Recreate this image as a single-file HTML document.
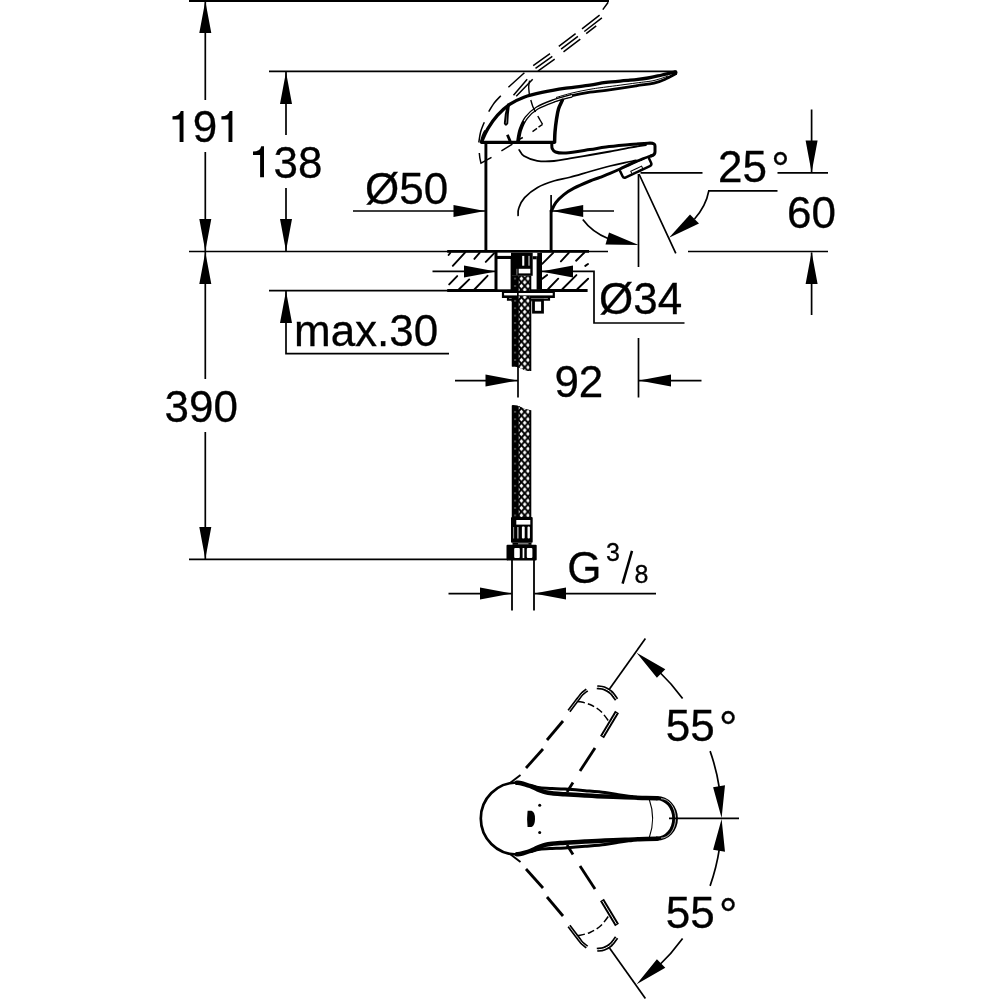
<!DOCTYPE html>
<html><head><meta charset="utf-8">
<style>
html,body{margin:0;padding:0;background:#fff;}
body{width:1000px;height:1000px;overflow:hidden;}
svg{display:block;will-change:transform;}
text{font-family:"Liberation Sans",sans-serif;fill:#000;stroke:#000;stroke-width:0.3px;}
.t{stroke:#000;stroke-width:1.7;fill:none;}
.m{stroke:#000;stroke-width:2;fill:none;stroke-linecap:round;stroke-linejoin:round;}
.k{stroke:#000;stroke-width:3;fill:none;stroke-linecap:round;stroke-linejoin:round;}
.a{fill:#000;stroke:none;}
.h{fill:none;stroke:none;}
.w{fill:#fff;stroke:#000;}
</style></head><body>
<svg width="1000" height="1000" viewBox="0 0 1000 1000">
<defs>
<pattern id="br" x="518.1" y="4.8" width="6.6" height="7.4" patternUnits="userSpaceOnUse">
<rect width="6.6" height="7.4" fill="#000"/>
<path d="M3.30 -2.25L5.25 0.00L3.30 2.25L1.35 0.00ZM3.30 5.15L5.25 7.40L3.30 9.65L1.35 7.40ZM0.00 1.45L1.95 3.70L0.00 5.95L-1.95 3.70ZM6.60 1.45L8.55 3.70L6.60 5.95L4.65 3.70Z" fill="#fff"/>
</pattern>
<pattern id="brd" x="518.1" y="4.8" width="6.6" height="7.4" patternUnits="userSpaceOnUse">
<rect width="6.6" height="7.4" fill="#000"/>
<circle cx="3.6" cy="0" r="0.9" fill="#777"/><circle cx="3.6" cy="7.4" r="0.9" fill="#777"/>
</pattern>
</defs>

<!-- ===== DIMENSION LINES ===== -->
<g id="dims">
<path class="m" d="M189 0.8H609" style="stroke-width:2.2;stroke-linecap:butt"/>
<path class="t" d="M205.3 1V100M205.3 152V251M205.3 252V379M205.3 432V559"/>
<path class="a" d="M205.3 1l6 32h-12zM205.3 251l6 -32h-12zM205.3 252l6 32h-12zM205.3 559l6 -32h-12z"/>
<path class="t" d="M189 251.5H608M688 251.5H828"/>
<path class="t" d="M189 559.4H508"/>
<path class="t" d="M269 71.4H675M286 72V135M286 188V251"/>
<path class="a" d="M286 72l6 32h-12zM286 251l6 -32h-12z"/>
<path class="t" d="M269 290.6H450M286 291V353.6H449"/>
<path class="a" d="M286 291l6 32h-12z"/>
<path class="t" d="M353 211H485M552 211H614"/>
<path class="a" d="M485 211l-31.5 -6v12zM552.2 211l31 -6v12z"/>
<path class="t" d="M432.5 271.4H495M541 271.4H594V323H684.5"/>
<path class="a" d="M496 271.4l-32 -6v12zM541 271.4l32 -6v12z"/>
<path class="t" d="M455 380.6H517.5M518 365V397.5M638.5 174V267M638.5 338V397.5M639 380.6H701.5"/>
<path class="a" d="M517.5 380.6l-32 -6v12zM639 380.6l32 -6v12z"/>
<path class="t" d="M448.5 593.6H511.5M534.5 593.6H656"/>
<path class="t" style="stroke-width:1.8" d="M512 560V610.5M534 560V610.5"/>
<path class="t" style="stroke-width:2.5" d="M622.6 583.6L632 550.8"/>
<path class="a" d="M512 593.6l-32 -6v12zM534 593.6l32 -6v12z"/>
<path class="t" d="M811.6 109.5V172M811.6 252.5V315M640.5 172.8H702.5M777.5 172.8H828"/>
<path class="a" d="M811.6 172.5l6 -32h-12zM811.6 252l6 32h-12z"/>
<path class="t" d="M639 174L675.8 253.3M777.5 190.9H708.8Q706 206 694.5 219"/>
<path class="a" d="M669 237.8L690 214.5L699 223.5z"/>
<path class="t" d="M582.8 219.5Q592 232 608 238.5"/>
<path class="a" d="M638.5 245L605.5 244.5L609 232.5z"/>
</g>
<!-- ===== FAUCET ===== -->
<g id="faucet">
<path class="k" d="M485.9 142V251.5M551.1 210V251.5" style="stroke-width:2.9;stroke-linecap:butt"/>
<path class="k" d="M551.1 195V211" style="stroke-width:1.7;stroke-linecap:butt"/>
<path class="k" d="M481.8 142.3H554.5" style="stroke-width:3.2"/>
<path class="k" d="M481.5 142.0C482.6 139.7 485.3 132.9 488.0 128.4C490.7 123.9 494.0 119.2 497.6 115.2C501.2 111.2 505.2 107.4 509.6 104.4C514.0 101.4 518.6 99.2 524.0 97.2C529.4 95.2 535.0 93.9 542.0 92.4C549.0 90.9 558.0 89.4 566.0 88.2C574.0 87.0 583.3 86.2 590.0 85.2C596.7 84.2 599.3 83.2 606.0 82.4C612.7 81.6 623.0 80.9 630.0 80.2C637.0 79.5 642.7 78.9 648.0 78.0C653.3 77.1 657.4 76.0 662.0 75.0C666.6 74.0 673.3 72.3 675.6 71.8" style="stroke-width:3.3"/>
<circle cx="675.2" cy="72.8" r="2.3" fill="#000"/>
<path class="k" d="M554.0 100.8C557.0 99.9 566.0 97.0 572.0 95.6C578.0 94.2 584.3 93.1 590.0 92.2C595.7 91.3 598.3 91.5 606.0 90.4C613.7 89.3 628.0 87.0 636.0 85.8C644.0 84.6 649.0 84.4 654.0 83.2C659.0 82.0 662.4 80.4 666.0 78.8C669.6 77.2 674.0 74.6 675.6 73.8" style="stroke-width:2.8"/>
<path class="t" d="M518.0 141.6C518.4 139.6 519.0 133.6 520.4 129.6C521.8 125.6 523.6 121.2 526.4 117.6C529.2 114.0 532.6 110.8 537.2 108.0C541.8 105.2 548.2 102.9 554.0 100.8C559.8 98.7 569.0 96.5 572.0 95.6" style="stroke-width:3.8"/>
<path class="t" d="M520.4 129.6C521.4 127.6 523.6 121.2 526.4 117.6C529.2 114.0 532.6 110.8 537.2 108.0C541.8 105.2 548.2 102.9 554.0 100.8C559.8 98.7 569.0 96.5 572.0 95.6" style="stroke-width:1.1;stroke:#fff;stroke-dasharray:0 9 100"/>
<path class="t" d="M556.0 97.5C558.7 96.8 566.3 94.4 572.0 93.0C577.7 91.6 584.3 90.3 590.0 89.3C595.7 88.3 598.3 88.0 606.0 87.0C613.7 86.0 628.0 84.1 636.0 83.0C644.0 81.9 648.7 81.7 654.0 80.5C659.3 79.3 665.7 76.8 668.0 76.0" style="stroke-width:1"/>
<path class="k" d="M562.4 100.2C561.8 101.7 559.5 105.7 558.5 109.0C557.5 112.3 557.0 116.2 556.4 120.0C555.8 123.8 555.3 128.4 555.0 132.0C554.7 135.6 554.7 140.0 554.6 141.6" style="stroke-width:3.5"/>
<path class="k" d="M551.8 144.0C551.9 144.8 551.6 147.2 552.2 148.5C552.8 149.8 553.2 151.2 555.5 152.0C557.8 152.8 560.2 153.4 566.0 153.0C571.8 152.6 583.3 150.6 590.0 149.6C596.7 148.6 599.3 147.8 606.0 147.0C612.7 146.2 622.7 145.3 630.0 144.6C637.3 143.9 646.7 143.3 650.0 143.0Q655 143 655 146V152Q655 155 651 156" style="stroke-width:3"/>
<path class="m" d="M519.2 150.0C520.0 151.0 521.0 154.2 524.0 156.0C527.0 157.8 532.2 160.0 537.2 160.8C542.2 161.6 548.5 161.4 554.0 161.0C559.5 160.6 564.0 159.4 570.0 158.4C576.0 157.4 583.3 156.2 590.0 155.0C596.7 153.8 603.3 152.7 610.0 151.5C616.7 150.3 624.0 148.7 630.0 147.6C636.0 146.5 643.3 145.4 646.0 145.0" style="stroke-width:1.8"/>
<path class="m" d="M518.1 215.5C518.2 214.2 517.7 211.0 518.8 208.0C519.8 205.0 521.5 201.0 524.6 197.6C527.7 194.2 532.6 190.2 537.6 187.4C542.6 184.6 549.1 182.5 554.5 180.8C559.9 179.1 564.1 178.9 570.0 177.3C575.9 175.8 583.3 173.4 590.0 171.5C596.7 169.6 604.2 167.5 610.0 166.0C615.8 164.5 620.7 163.5 625.0 162.6C629.3 161.7 634.2 160.8 636.0 160.4" style="stroke-width:1.7"/>
<path class="k" d="M551.4 211.0C552.1 209.6 553.8 205.3 555.8 202.6C557.8 199.9 560.6 197.2 563.6 194.8C566.6 192.4 569.6 190.5 574.0 188.2C578.4 185.9 585.7 182.8 590.0 181.0C594.3 179.2 596.7 178.7 600.0 177.4C603.3 176.1 606.7 174.8 610.0 173.4C613.3 172.0 615.8 170.9 620.0 169.0C624.2 167.1 629.8 164.2 635.0 162.0C640.2 159.8 648.3 156.8 651.0 155.8" style="stroke-width:3"/>
<g transform="translate(620.2 171.2) rotate(-25.2)"><path class="k w" style="stroke-width:2.5" d="M0 0V5.5Q0 8 2.5 8H29Q31.5 8 31.5 5.5V0"/><rect x="9.5" y="4.6" width="12" height="2.6" fill="#fff" stroke="#000" stroke-width="1"/></g>
</g>
<!-- ===== SIDE GHOST HANDLE ===== -->
<g id="sghost">
<path class="t" d="M508.4 87.2L524.4 72.8M533.2 65.6L550.0 53.6M558.8 46.4L575.6 33.6M582.0 28.8L599.6 15.2M602.8 9.6L608.2 2.2M535.5 68.3L552.3 56.3M561.1 49.1L577.9 36.3M584.3 31.5L601.9 17.9M537.9 71.1L554.7 59.1M563.5 51.9L580.3 39.1M586.2 33.7L596.2 25.9M513.5 95.2L527.2 79.2M516.2 96.3L532.7 79.2" style="stroke-width:1.5"/>
<path class="t" d="M478.8 142.5C479.1 140.8 479.7 135.4 480.6 132.0C481.5 128.6 483.7 123.8 484.3 122.2M488.7 111.7C489.6 110.2 492.2 105.7 494.2 103.0C496.2 100.3 499.7 97.0 500.8 95.8" style="stroke-width:1.5"/>
<path class="t" d="M480.6 142.0C480.9 141.0 481.5 137.9 482.2 136.0C482.9 134.1 484.4 131.3 484.9 130.4" style="stroke-width:1.3"/>
<path d="M508 104.4Q505.2 114 504.8 123.4Q506 126 507.3 123.4Q507.6 114 508.9 105Z" fill="#fff" stroke="#000" stroke-width="1.9" stroke-linejoin="round"/>
<path class="t" d="M529.6 80.6C529.5 81.7 528.7 84.6 528.7 87.0C528.7 89.4 529.3 93.7 529.4 95.0M530.8 100.0C531.1 101.0 531.9 104.2 532.7 106.2C533.5 108.2 535.0 111.0 535.5 112.0M537.8 116.0C538.2 116.7 539.2 118.6 540.0 120.0C540.8 121.4 542.2 123.5 542.6 124.2M542.6 124.4L538.5 127.2M537.0 128.4L532.5 131.6" style="stroke-width:1.4"/>
<path class="k" d="M507.4 134.8L510.2 141.4" style="stroke-width:2.8;stroke-linecap:butt"/>
<path class="t" d="M501.4 150.8L512.4 144.2M518.4 139.8L522.8 137.5" style="stroke-width:1.5"/>
<path class="t" d="M479.3 153Q479.6 158.5 481 163.2L491.5 157.3" style="stroke-width:1.5"/>
</g>
<!-- ===== COUNTERTOP ===== -->
<g id="counter">
<path class="k" d="M447.2 251.4H589M447.2 290.5H587.6" style="stroke-width:2.8;stroke-linecap:butt"/>
<path class="m" d="M448.6 255.0L450.2 253.0M452.8 265.8L465.2 252.4M474.4 258.9L479.6 252.8M485.8 261.9L494.0 253.4M449.2 284.4L457.2 276.1M458.8 289.5L469.2 279.4M474.4 289.5L487.5 275.8M542.2 263.8L553.2 252.8M560.9 261.4L568.8 252.8M576.1 260.7L584.4 252.5M585.3 265.9L588.0 264.0M542.2 278.8L547.1 275.1M548.2 289.0L558.2 278.7M562.5 289.0L576.4 275.1M577.4 289.0L588.1 278.7" style="stroke-width:1.9"/>
<rect x="496" y="252.8" width="44" height="36.5" fill="#fff"/>
<path class="k" d="M496 252V290" style="stroke-width:3;stroke-linecap:butt"/>
<rect x="536.6" y="252.8" width="5.4" height="37" fill="#000"/>
<rect x="497" y="255.9" width="15" height="3.1" fill="#000"/>
<path class="t" d="M511.3 259V290" style="stroke-width:1.4"/>
<rect x="511" y="252.7" width="21.7" height="23.1" fill="#000"/>
<rect x="522.2" y="255.9" width="2.1" height="9.8" fill="#fff"/>
<rect x="528.2" y="255.9" width="1.6" height="9.8" fill="#999"/>
<rect x="518.7" y="268.8" width="11.6" height="4.6" fill="#fff"/>
<rect x="516.4" y="268.8" width="1" height="6" fill="#888"/>
<rect x="534.1" y="253" width="3.2" height="3.2" fill="#fff"/>
<rect x="532.7" y="256.2" width="4" height="3.1" fill="#000"/>
<clipPath id="hc1"><path d="M511.8 275.8H531.3V371.0C528 371.0 525 370.7 522 368.8S515 366.5 511.8 366.5Z"/></clipPath>
<path d="M511.8 275.8H531.3V371.0C528 371.0 525 370.7 522 368.8S515 366.5 511.8 366.5Z" fill="#000"/>
<g clip-path="url(#hc1)"><path d="M518.5 275.8H529.5V373.0H518.5Z" fill="url(#br)"/><path d="M511.8 275.8H518.5V373.0H511.8Z" fill="url(#brd)"/></g>
<path d="M503 292H553.8V297H549V299.6H508V297H503Z" fill="#fff" stroke="#000" stroke-width="2.2"/>
<rect x="503" y="295.4" width="50.8" height="2.6" fill="#000"/>
<rect x="517" y="291" width="1.7" height="6" fill="#000"/>
<rect x="511.8" y="296" width="19.5" height="6" fill="#000"/>
<rect x="518.5" y="296" width="11" height="6" fill="url(#br)"/>
<rect x="511.8" y="296" width="6.7" height="6" fill="url(#brd)"/>
<rect x="533.5" y="300.2" width="9" height="12" fill="#fff" stroke="#000" stroke-width="2.8"/>
</g>
<!-- ===== HOSE LOWER ===== -->
<g id="hose">
<clipPath id="hc2"><path d="M511.8 405.5C515 404.9 518 405.7 521 407.2S527 409.8 531.3 410.2V517.0H511.8Z"/></clipPath>
<path d="M511.8 405.5C515 404.9 518 405.7 521 407.2S527 409.8 531.3 410.2V517.0H511.8Z" fill="#000"/>
<g clip-path="url(#hc2)"><path d="M518.5 403.5H529.5V517.0H518.5Z" fill="url(#br)"/><path d="M511.8 403.5H518.5V517.0H511.8Z" fill="url(#brd)"/></g>
<rect x="511" y="517.1" width="21.7" height="25.6" rx="1" fill="#000"/>
<rect x="516.3" y="520" width="14" height="4.6" fill="#fff"/>
<rect x="513.2" y="527" width="0.9" height="11.5" fill="#aaa"/>
<rect x="517" y="527" width="1.7" height="11.5" fill="#999"/>
<rect x="521.9" y="526.6" width="2.8" height="12" rx="1" fill="#fff"/>
<rect x="527.5" y="526.6" width="2.4" height="12" rx="1" fill="#fff"/>
<rect x="512.5" y="542.7" width="19" height="2.2" fill="#000"/>
<rect x="518" y="543.2" width="10.5" height="1.2" fill="#999"/>
<rect x="506.5" y="544.8" width="30.2" height="15.7" rx="1" fill="#000"/>
<rect x="514.2" y="548" width="5.6" height="10.1" rx="1" fill="#fff"/>
<rect x="522.6" y="548" width="1.7" height="10.1" fill="#fff"/>
<rect x="526.8" y="548" width="5.6" height="10.1" rx="1" fill="#fff"/>
</g>
<!-- ===== TOP VIEW ===== -->
<g id="topview">
<path class="k" d="M516.8 782.5A36 36 0 1 0 516.8 854.5" style="stroke-width:2.7"/>
<path class="k" d="M516.8 782.7C517.5 782.8 519.6 782.9 521.0 783.2C522.4 783.5 523.5 783.8 525.0 784.3C526.5 784.8 528.3 785.4 530.0 786.0C531.7 786.6 533.3 787.5 535.0 788.2C536.7 788.9 538.3 789.8 540.0 790.4C541.7 791.0 543.0 791.6 545.0 792.1C547.0 792.6 548.7 792.9 552.0 793.3C555.3 793.7 559.5 793.9 565.0 794.3C570.5 794.6 578.3 795.0 585.0 795.4C591.7 795.8 598.3 796.2 605.0 796.5C611.7 796.8 618.2 797.0 625.0 797.3C631.8 797.5 640.7 797.9 646.0 798.0C651.3 798.1 655.2 798.2 657.0 798.2" style="stroke-width:4.5"/>
<path class="k" d="M516.8 854.3C517.5 854.2 519.6 854.1 521.0 853.8C522.4 853.5 523.5 853.2 525.0 852.7C526.5 852.2 528.3 851.6 530.0 851.0C531.7 850.4 533.3 849.5 535.0 848.8C536.7 848.1 538.3 847.2 540.0 846.6C541.7 846.0 543.0 845.4 545.0 844.9C547.0 844.4 548.7 844.1 552.0 843.7C555.3 843.3 559.5 843.1 565.0 842.7C570.5 842.4 578.3 842.0 585.0 841.6C591.7 841.2 598.3 840.8 605.0 840.5C611.7 840.2 618.2 840.0 625.0 839.7C631.8 839.5 640.7 839.1 646.0 839.0C651.3 838.9 655.2 838.8 657.0 838.8" style="stroke-width:4.5"/>
<path class="k" d="M531.0 785.4C531.8 785.6 534.0 786.4 535.5 786.8C537.0 787.2 537.2 787.5 540.0 787.8C542.8 788.1 547.8 788.3 552.0 788.5C556.2 788.7 559.5 788.7 565.0 789.1C570.5 789.5 578.3 790.1 585.0 790.7C591.7 791.3 599.2 791.9 605.0 792.6C610.8 793.3 615.5 794.2 620.0 794.9C624.5 795.6 630.0 796.3 632.0 796.6" style="stroke-width:3"/>
<path class="k" d="M531.0 851.6C531.8 851.4 534.0 850.6 535.5 850.2C537.0 849.8 537.2 849.5 540.0 849.2C542.8 848.9 547.8 848.7 552.0 848.5C556.2 848.3 559.5 848.3 565.0 847.9C570.5 847.5 578.3 846.9 585.0 846.3C591.7 845.7 599.2 845.1 605.0 844.4C610.8 843.7 615.5 842.8 620.0 842.1C624.5 841.4 630.0 840.7 632.0 840.4" style="stroke-width:3"/>
<path class="a" d="M656 796.1H657A20.9 22.3 0 0 1 657 840.8H656V836.6H657A15.2 18.1 0 0 0 657 800.3H656Z"/>
<path class="t" d="M661 798.7A14.6 19.7 0 0 1 661 838.1" style="stroke-width:0.7;stroke:#fff"/>
<path class="t" d="M649.3 799.5Q656 818.5 649.3 837.5" style="stroke-width:1.1"/>
<path d="M527.6 810.8H531.5Q535 812 535 818.8T531.5 827H527.6Q526.6 819 527.6 810.8Z" fill="#000"/>
<circle cx="539.7" cy="805.2" r="1.5" fill="#000"/><circle cx="539.7" cy="832.6" r="1.5" fill="#000"/>
<path class="t" d="M669 818.4H739"/>
</g>
<!-- ===== GHOSTS ===== -->
<g id="ghost">
<path class="k" d="M510.0 783.0L520.5 775.0" style="stroke-width:1.9;stroke-linecap:butt"/>
<path class="k" d="M526.0 768.0L543.0 749.0" style="stroke-width:2.8;stroke-linecap:butt"/>
<path class="k" d="M547.0 740.0L563.0 721.0" style="stroke-width:2.8;stroke-linecap:butt"/>
<path class="t" d="M569.0 711.0C570.6 708.9 576.3 701.3 578.5 698.5C580.7 695.7 580.6 695.4 582.0 694.0C583.4 692.6 586.2 690.7 587.0 690.0" style="stroke-width:3.8"/>
<path class="t" d="M569.0 711.0C570.6 708.9 576.3 701.3 578.5 698.5C580.7 695.7 580.6 695.4 582.0 694.0C583.4 692.6 586.2 690.7 587.0 690.0" style="stroke-width:0.8;stroke:#fff"/>
<path class="k" d="M567.0 792.0L573.0 782.5" style="stroke-width:2.8;stroke-linecap:butt"/>
<path class="k" d="M580.0 771.0L595.0 748.0" style="stroke-width:2.8;stroke-linecap:butt"/>
<path class="k" d="M602.0 737.0L617.0 712.0" style="stroke-width:4.6;stroke-linecap:butt"/>
<path class="t" d="M602.6 736.0L616.4 713.0" style="stroke-width:0.9;stroke:#fff"/>
<path class="t" d="M597.0 687.2C598.2 687.4 601.7 687.3 604.0 688.2C606.3 689.1 608.9 690.5 611.0 692.4C613.1 694.3 615.7 698.4 616.6 699.6" style="stroke-width:4.2"/>
<path class="t" d="M597.0 687.2C598.2 687.4 601.7 687.3 604.0 688.2C606.3 689.1 608.9 690.5 611.0 692.4C613.1 694.3 615.7 698.4 616.6 699.6" style="stroke-width:1;stroke:#fff"/>
<path class="t" d="M578.0 701.4C580.0 701.9 586.2 702.8 590.0 704.5C593.8 706.2 597.7 708.4 601.0 711.5C604.3 714.6 608.5 721.1 610.0 723.0" style="stroke-width:1.5;stroke-dasharray:7 3"/>
<path class="t" d="M609.5 689.0L645.4 638.6"/>
<path class="k" d="M510.0 854.0L520.5 862.0" style="stroke-width:1.9;stroke-linecap:butt"/>
<path class="k" d="M526.0 869.0L543.0 888.0" style="stroke-width:2.8;stroke-linecap:butt"/>
<path class="k" d="M547.0 897.0L563.0 916.0" style="stroke-width:2.8;stroke-linecap:butt"/>
<path class="t" d="M569.0 926.0C570.6 928.1 576.3 935.7 578.5 938.5C580.7 941.3 580.6 941.6 582.0 943.0C583.4 944.4 586.2 946.3 587.0 947.0" style="stroke-width:3.8"/>
<path class="t" d="M569.0 926.0C570.6 928.1 576.3 935.7 578.5 938.5C580.7 941.3 580.6 941.6 582.0 943.0C583.4 944.4 586.2 946.3 587.0 947.0" style="stroke-width:0.8;stroke:#fff"/>
<path class="k" d="M567.0 845.0L573.0 854.5" style="stroke-width:2.8;stroke-linecap:butt"/>
<path class="k" d="M580.0 866.0L595.0 889.0" style="stroke-width:2.8;stroke-linecap:butt"/>
<path class="k" d="M602.0 900.0L617.0 925.0" style="stroke-width:4.6;stroke-linecap:butt"/>
<path class="t" d="M602.6 901.0L616.4 924.0" style="stroke-width:0.9;stroke:#fff"/>
<path class="t" d="M597.0 949.8C598.2 949.6 601.7 949.7 604.0 948.8C606.3 947.9 608.9 946.5 611.0 944.6C613.1 942.7 615.7 938.6 616.6 937.4" style="stroke-width:4.2"/>
<path class="t" d="M597.0 949.8C598.2 949.6 601.7 949.7 604.0 948.8C606.3 947.9 608.9 946.5 611.0 944.6C613.1 942.7 615.7 938.6 616.6 937.4" style="stroke-width:1;stroke:#fff"/>
<path class="t" d="M578.0 935.6C580.0 935.1 586.2 934.2 590.0 932.5C593.8 930.8 597.7 928.6 601.0 925.5C604.3 922.4 608.5 915.9 610.0 914.0" style="stroke-width:1.5;stroke-dasharray:7 3"/>
<path class="t" d="M609.5 948.0L645.4 998.4"/>
<path class="t" d="M658.0 670.5A204 204 0 0 1 682.6 698.6M710.1 751.1A204 204 0 0 1 719.4 788.3M719.4 848.7A204 204 0 0 1 710.1 885.9M682.6 938.4A204 204 0 0 1 658.0 966.5"/>
<path class="a" d="M636.6 652.8L665.3 669.2L656.9 677.8ZM721.6 818.1L725.0 785.3L713.1 787.2ZM721.6 818.9L725.0 851.7L713.1 849.8ZM636.6 984.2L665.3 967.8L656.9 959.2Z"/>
</g>

<!-- ===== TEXT ===== -->
<g id="txt" font-size="44">
<text x="168.33" y="142"><tspan class="h">1</tspan>9<tspan class="h">1</tspan></text>
<text x="249.03" y="178"><tspan class="h">1</tspan>38</text>
<path class="a" d="M179.60 141.90H183.50V110.90H180.80Q179.50 116.20 172.50 116.20V119.60H179.60ZM228.50 141.90H232.40V110.90H229.70Q228.40 116.20 221.40 116.20V119.60H228.50ZM260.10 177.30H264.00V146.30H261.30Q260.00 151.60 253.00 151.60V155.00H260.10Z"/>
<text x="365" y="203.7">Ø50</text>
<text x="294" y="346">max.30</text>
<text x="164.5" y="422">390</text>
<text x="599" y="313.5">Ø34</text>
<text x="554.4" y="397">92</text>
<text x="718" y="182">25<tspan dx="4.3" dy="3.4" font-size="46">°</tspan></text>
<text x="787" y="228">60</text>
<text x="567.2" y="583">G</text>
<text x="606" y="561" font-size="25">3</text>
<text x="621" y="583" class="h">/</text>
<text x="634.5" y="583" font-size="25">8</text>
<text x="665.8" y="741">55<tspan dx="4.3" dy="3.4" font-size="46">°</tspan></text>
<text x="665.8" y="928">55<tspan dx="4.3" dy="3.4" font-size="46">°</tspan></text>
</g>
</svg>
</body></html>
